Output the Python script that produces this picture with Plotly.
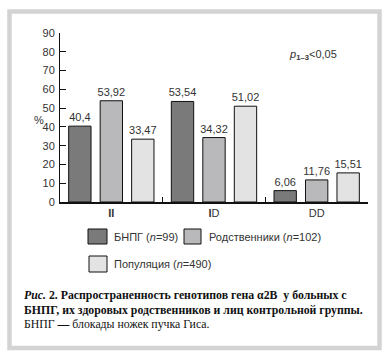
import plotly.graph_objects as go

categories = ["II", "ID", "DD"]
tick_labels = ["<b>II</b>", "<b>I</b>D", "DD"]
series_names = ["БНПГ (<i>n</i>=99)", "Родственники (<i>n</i>=102)", "Популяция (<i>n</i>=490)"]
bnpg = [40.4, 53.54, 6.06]
relatives = [53.92, 34.32, 11.76]
population = [33.47, 51.02, 15.51]
series_values = [bnpg, relatives, population]
colors = ["#7a7a7a", "#b9b9bb", "#e3e3e3"]
y_ticks = list(range(0, 91, 10))

# plot area in pixels
W, H = 390, 361
L, R, T, B = 60, 368, 33, 202


def px(x):
    return (x - L) / (R - L)


def py(y):
    return (B - y) / (B - T)


fig = go.Figure()
for name, vals, col in zip(series_names, series_values, colors):
    fig.add_trace(go.Bar(
        x=categories, y=vals, name=name,
        marker=dict(color=col, line=dict(color="#111111", width=1)),
        text=[str(v).replace(".", ",") for v in vals],
        textposition="outside", cliponaxis=False, constraintext="none",
        textfont=dict(family="Liberation Sans, Arial", size=11, color="#333333"),
        showlegend=False, hoverinfo="skip",
    ))

font = "Liberation Sans, Arial, sans-serif"
serif = "Liberation Serif, Times New Roman, serif"

shapes = []
annotations = []

# outer frame
shapes.append(dict(type="rect", xref="paper", yref="paper",
                   x0=px(9.5), x1=px(379.5), y0=py(348), y1=py(11.5),
                   line=dict(color="#d3d3d3", width=4.5), layer="below"))

# custom legend
legend_pos = [(88, 107, 229, 244, 112, 236.5), (184, 201, 229, 244, 207, 236.5),
              (89, 107, 256, 272, 112, 264)]
for (x0, x1, y0, y1, tx, ty), name, col in zip(legend_pos, series_names, colors):
    shapes.append(dict(type="rect", xref="paper", yref="paper",
                       x0=px(x0), x1=px(x1), y0=py(y1), y1=py(y0),
                       fillcolor=col, line=dict(color="#111111", width=1)))
    annotations.append(dict(xref="paper", yref="paper", x=px(tx), y=py(ty),
                            xanchor="left", yanchor="middle", showarrow=False,
                            text=name, font=dict(family=font, size=11, color="#333333")))

annotations.append(dict(xref="paper", yref="paper", x=px(32), y=py(120),
                        text="%", showarrow=False,
                        font=dict(family=font, size=11, color="#333333")))
annotations.append(dict(xref="paper", yref="paper", x=px(287), y=py(55),
                        xanchor="left", yanchor="middle",
                        text="<i>p</i><sub><b>1–3</b></sub>&lt;0,05", showarrow=False,
                        font=dict(family=font, size=11, color="#333333")))

caption = [
    ("<b><i>Рис.</i> 2. Распространенность генотипов гена α2B  у больных с</b>", 295),
    ("<b>БНПГ, их здоровых родственников и лиц контрольной группы.</b>", 309.5),
    ("БНПГ <b>—</b> блокады ножек пучка Гиса.", 324),
]
for txt, yy in caption:
    annotations.append(dict(xref="paper", yref="paper", x=px(22), y=py(yy),
                            xanchor="left", yanchor="middle", text=txt, showarrow=False,
                            font=dict(family=serif, size=11.8, color="#111111")))

fig.update_layout(
    width=W, height=H,
    margin=dict(l=L, r=W - R, t=T, b=H - B, pad=0),
    paper_bgcolor="white", plot_bgcolor="white",
    barmode="group", bargap=0.08, bargroupgap=0.29,
    shapes=shapes, annotations=annotations,
    font=dict(family=font, size=11, color="#333333"),
    hovermode=False,
    xaxis=dict(tickmode="array", tickvals=categories, ticktext=tick_labels,
               showline=True, linecolor="#111111", linewidth=2,
               ticks="inside", tickson="boundaries", ticklen=5, tickcolor="#111111",
               showgrid=False, zeroline=False, fixedrange=True,
               tickfont=dict(family=font, size=11, color="#333333")),
    yaxis=dict(range=[0, 90], tickvals=y_ticks, showline=True, linecolor="#111111",
               linewidth=1, ticks="inside", ticklen=6, tickcolor="#111111",
               showgrid=False, zeroline=False, ticklabelstandoff=2, fixedrange=True,
               tickfont=dict(family=font, size=11, color="#333333")),
)

fig.write_html("out.html", config={"displayModeBar": False},
               post_script="document.body.style.margin='0';")
